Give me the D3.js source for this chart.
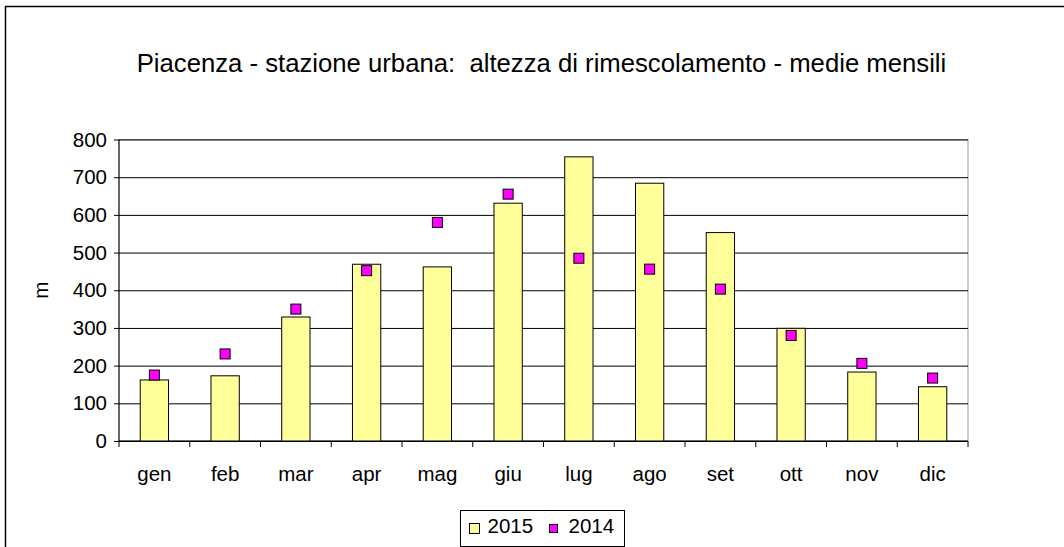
<!DOCTYPE html>
<html>
<head>
<meta charset="utf-8">
<script src="https://cdn.jsdelivr.net/npm/d3@7"></script>
<style>
  body { margin: 0; background: #fff; }
  text { font-family: "Liberation Sans", Arial, sans-serif; fill: #000; }
</style>
</head>
<body>
<svg width="1064" height="547"></svg>
<script>
const months = ['gen', 'feb', 'mar', 'apr', 'mag', 'giu', 'lug', 'ago', 'set', 'ott', 'nov', 'dic'];
const values2015 = [162, 173, 329, 469, 462, 631, 754, 684, 553, 299, 183, 144];
const values2014 = [175, 231, 350, 452, 580, 655, 485, 456, 403, 280, 206, 167];
const yTicks = [0, 100, 200, 300, 400, 500, 600, 700, 800];

const svg = d3.select('svg');
const width = +svg.attr('width');
const height = +svg.attr('height');

const fontSize = 20.5;
const margin = {top: 139.5, right: 96, bottom: 106, left: 119};
const innerWidth = width - margin.left - margin.right;
const innerHeight = height - margin.top - margin.bottom;

// outer chart border (right and bottom edges fall outside the picture)
svg.append('rect')
    .attr('x', 5.5).attr('y', 6.5)
    .attr('width', 1070).attr('height', 560)
    .attr('fill', 'none')
    .attr('stroke', '#000')
    .attr('stroke-width', 1.5);

svg.append('text')
    .attr('x', 541.5)
    .attr('y', 71.5)
    .attr('text-anchor', 'middle')
    .attr('font-size', 25.7)
    .style('white-space', 'pre')
    .text('Piacenza - stazione urbana:  altezza di rimescolamento - medie mensili');

const xScale = d3.scaleBand()
    .domain(months)
    .range([0, innerWidth])
    .paddingInner(0.6)
    .paddingOuter(0.3);

const yScale = d3.scaleLinear()
    .domain([0, 800])
    .range([innerHeight, 0]);

const g = svg.append('g')
    .attr('transform', `translate(${margin.left}, ${margin.top})`);

// plot border
g.append('rect')
    .attr('width', innerWidth).attr('height', innerHeight)
    .attr('fill', '#fff')
    .attr('stroke', '#999')
    .attr('stroke-width', 1);

const yAxis = d3.axisLeft(yScale)
    .tickValues(yTicks)
    .tickSize(-innerWidth)
    .tickPadding(12)
    .tickFormat(d3.format('d'));

const yAxisG = g.append('g').call(yAxis);
yAxisG.selectAll('.domain').remove();
yAxisG.selectAll('.tick line').attr('stroke', '#000').attr('x1', -5);
yAxisG.selectAll('.tick text')
    .attr('font-size', fontSize)
    .attr('font-family', '"Liberation Sans", Arial, sans-serif');

g.append('line')
    .attr('x1', 0).attr('x2', 0)
    .attr('y1', 0).attr('y2', innerHeight)
    .attr('stroke', '#000');

g.append('text')
    .attr('transform', `translate(-71, ${innerHeight / 2}) rotate(-90)`)
    .attr('text-anchor', 'middle')
    .attr('font-size', fontSize)
    .text('m');

// x axis with ticks between categories
const step = xScale.step();
const xAxisG = g.append('g')
    .attr('transform', `translate(0, ${innerHeight})`);
xAxisG.append('line')
    .attr('x1', 0).attr('x2', innerWidth)
    .attr('stroke', '#000');
xAxisG.selectAll('.sep')
    .data(d3.range(months.length + 1))
    .join('line')
    .attr('class', 'sep')
    .attr('x1', i => i * step).attr('x2', i => i * step)
    .attr('y1', 0).attr('y2', 6)
    .attr('stroke', '#000');
xAxisG.selectAll('.lbl')
    .data(months)
    .join('text')
    .attr('class', 'lbl')
    .attr('x', d => xScale(d) + xScale.bandwidth() / 2)
    .attr('y', 40)
    .attr('text-anchor', 'middle')
    .attr('font-size', fontSize)
    .text(d => d);

g.selectAll('.bar')
    .data(values2015)
    .join('rect')
    .attr('class', 'bar')
    .attr('x', (d, i) => xScale(months[i]))
    .attr('y', d => yScale(d))
    .attr('width', xScale.bandwidth())
    .attr('height', d => innerHeight - yScale(d))
    .attr('fill', '#ffff99')
    .attr('stroke', '#000')
    .attr('stroke-width', 1);

const sq = 10;
g.selectAll('.pt')
    .data(values2014)
    .join('rect')
    .attr('class', 'pt')
    .attr('x', (d, i) => xScale(months[i]) + xScale.bandwidth() / 2 - sq / 2)
    .attr('y', d => yScale(d) - sq / 2)
    .attr('width', sq).attr('height', sq)
    .attr('fill', '#ff00ff')
    .attr('stroke', '#000')
    .attr('stroke-width', 1);

// legend
const legend = svg.append('g').attr('transform', 'translate(460.5, 510.5)');
legend.append('rect')
    .attr('width', 164).attr('height', 36)
    .attr('fill', '#fff')
    .attr('stroke', '#000');
legend.append('rect')
    .attr('x', 9).attr('y', 13).attr('width', 10).attr('height', 10)
    .attr('fill', '#ffff99').attr('stroke', '#000');
legend.append('text')
    .attr('x', 27).attr('y', 22.5)
    .attr('font-size', fontSize)
    .text('2015');
legend.append('rect')
    .attr('x', 89).attr('y', 14).attr('width', 8).attr('height', 8)
    .attr('fill', '#ff00ff').attr('stroke', '#000');
legend.append('text')
    .attr('x', 108).attr('y', 22.5)
    .attr('font-size', fontSize)
    .text('2014');
</script>
</body>
</html>
